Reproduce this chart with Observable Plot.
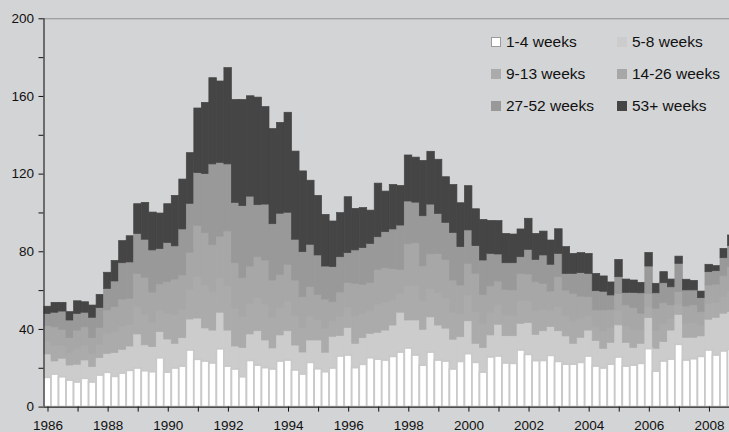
<!DOCTYPE html>
<html><head><meta charset="utf-8">
<script src="https://cdn.jsdelivr.net/npm/d3@7"></script>
<script src="https://cdn.jsdelivr.net/npm/@observablehq/plot@0.6"></script>
<style>
body{margin:0;background:#d3d4d6;}
#wrap{position:relative;width:729px;height:432px;overflow:hidden;}
#legend{position:absolute;left:491px;top:37px;display:grid;grid-template-columns:126px 120px;row-gap:22px;font-family:"Liberation Sans",Arial,sans-serif;font-size:15.5px;color:#111;}
.item{display:flex;align-items:center;height:10px;white-space:nowrap;}
.sw{width:10px;height:10px;box-sizing:border-box;margin-right:5px;flex:none;}
</style></head><body><div id="wrap"></div>
<script>
const quarters = d3.range(92).map(i => `${1986 + Math.floor(i / 4)} Q${i % 4 + 1}`);
const durations = ["1-4 weeks", "5-8 weeks", "9-13 weeks", "14-26 weeks", "27-52 weeks", "53+ weeks"];
const colors = ["#ffffff", "#cccccc", "#ababab", "#a7a7a7", "#999999", "#454545"];
const yTicks = [0, 20, 40, 60, 80, 100, 120, 140, 160, 180, 200];
const xTicks = d3.range(1986, 2009);

const w1_4 = [15.1,16.8,15.4,13.7,12.7,14.6,12.7,16.3,17.7,15.6,
17.3,18.7,19.9,18.5,18.0,25.2,17.8,19.9,20.9,29.2,
24.4,23.5,22.5,29.8,20.9,19.4,15.4,23.8,21.4,20.1,
19.4,23.5,24.0,18.9,16.8,22.8,19.5,18.0,19.9,26.1,
26.6,20.1,21.8,25.2,24.5,24.0,25.9,28.1,30.2,26.6,
21.4,28.1,24.0,23.5,19.4,23.3,27.3,22.8,17.8,25.6,
26.1,22.5,22.3,29.2,26.9,23.7,23.8,26.4,23.3,21.9,
21.9,22.8,26.1,20.9,19.9,21.9,25.6,20.9,21.4,22.3,
29.9,18.3,23.5,24.5,32.1,24.0,24.7,25.9,29.2,26.6,
28.7,29.5];
const w5_8 = [12.0,6.7,9.5,7.7,9.1,9.4,7.9,8.9,9.7,12.2,
12.2,12.5,17.5,13.3,12.9,13.4,17.0,12.7,14.6,15.9,
21.2,17.0,16.9,18.8,18.5,11.8,15.0,13.6,17.7,14.2,
10.8,13.4,15.1,12.8,11.3,11.5,14.8,10.0,16.3,10.5,
14.2,12.5,13.7,12.5,13.7,15.4,16.1,20.5,14.4,18.0,
18.4,18.1,18.0,16.9,15.3,12.7,16.9,9.8,12.6,11.3,
16.3,14.0,14.2,13.7,16.4,13.5,15.3,14.8,15.8,14.5,
10.7,12.9,13.3,13.1,10.1,11.2,16.5,12.2,9.0,10.3,
15.9,11.7,10.0,14.9,15.4,11.7,11.0,10.5,15.8,19.4,
19.4,19.5];
const w9_13 = [6.6,7.9,6.7,6.3,7.9,7.7,6.7,7.0,10.1,10.7,
11.7,11.1,14.0,15.7,12.6,11.1,13.3,14.9,14.5,15.5,
21.5,22.1,19.8,17.6,23.0,19.3,16.2,15.8,17.1,18.5,
15.8,14.0,15.4,15.1,12.8,12.4,10.6,12.3,8.0,10.1,
10.4,13.9,12.4,11.8,14.6,14.4,13.0,9.9,17.7,17.9,
14.7,14.6,16.6,15.9,13.7,12.0,13.3,16.2,12.3,11.4,
10.0,10.8,10.6,11.6,11.3,12.2,11.0,8.2,12.5,10.6,
11.6,9.5,7.7,7.1,8.9,7.7,7.3,8.7,9.3,7.0,
5.6,9.3,9.0,5.9,5.3,7.2,7.5,5.6,7.9,7.7,
8.7,10.4];
const w14_26 = [8.0,9.7,8.2,7.8,9.7,9.4,8.2,8.6,12.3,13.0,
14.2,13.5,17.2,19.1,15.5,13.5,16.3,18.2,17.8,18.9,
26.3,27.0,24.2,21.6,28.1,23.6,19.8,19.2,21.0,22.7,
19.2,17.2,18.8,18.4,15.7,15.1,12.9,15.1,9.8,12.3,
12.8,17.0,15.1,14.5,17.9,17.7,16.0,12.2,21.6,21.9,
18.0,17.9,20.3,19.5,16.8,14.6,16.3,19.9,15.1,13.9,
12.3,13.1,13.0,14.1,13.7,14.9,13.4,10.1,15.3,13.0,
14.1,11.7,9.5,8.7,10.9,9.3,8.9,10.6,11.3,8.5,
6.9,11.4,11.0,7.1,6.4,8.9,9.2,6.9,9.7,9.4,
10.6,12.6];
const w27_52 = [6.3,7.5,9.4,9.1,8.6,7.5,10.5,10.2,11.1,13.2,
18.7,18.7,20.6,19.6,21.7,18.2,20.1,17.1,23.7,25.2,
27.1,30.4,41.6,38.0,34.5,31.1,37.1,36.0,26.8,28.8,
29.0,31.5,26.8,21.0,23.2,21.8,20.3,17.0,18.1,18.2,
15.3,17.2,18.9,20.0,16.8,18.6,20.5,22.8,22.0,20.9,
25.8,25.6,20.6,19.1,24.5,19.8,17.2,14.2,17.7,16.7,
13.9,13.7,14.0,8.6,12.7,11.5,14.6,13.8,12.0,8.6,
10.3,12.1,12.0,9.9,9.6,7.4,8.6,6.4,7.8,10.5,
14.1,7.9,10.3,9.3,14.6,8.3,7.7,7.2,6.9,6.9,
9.3,11.0];
const w53plus = [3.7,5.1,4.5,4.3,6.5,5.4,6.3,6.8,8.3,10.6,
11.4,13.5,15.3,19.0,19.5,18.3,20.0,26.0,25.7,26.1,
33.3,36.7,44.4,41.9,49.6,53.0,54.7,51.7,55.4,50.2,
49.0,46.8,51.5,45.4,41.6,33.0,30.7,26.6,23.5,22.7,
28.8,21.4,20.6,17.2,27.6,20.9,22.9,20.4,23.7,23.2,
28.5,27.2,27.9,23.5,24.7,22.6,22.8,19.0,20.9,17.0,
17.2,15.1,14.8,14.3,16.0,13.4,12.3,12.5,12.7,13.8,
10.3,10.3,10.3,8.9,7.9,6.7,8.9,6.9,6.4,5.4,
7.0,4.9,5.7,4.0,3.7,5.5,4.9,3.4,3.8,2.6,
4.8,5.4];

const series = [w1_4, w5_8, w9_13, w14_26, w27_52, w53plus];
const rows = [];
quarters.forEach((q, i) => {
  durations.forEach((d, k) => rows.push({q, x1: 1986 + i / 4, x2: 1986 + (i + 1) / 4, dur: d, value: series[k][i]}));
});
const whiteRows = rows.filter(r => r.dur === durations[0]);

const chart = Plot.plot({
  width: 729, height: 432,
  marginLeft: 43.5, marginRight: 0, marginTop: 18.3, marginBottom: 25.4,
  x: {domain: [1986, 2008.8]},
  y: {domain: [0, 200]},
  color: {domain: durations, range: colors},
  style: {background: "#d3d4d6", fontFamily: "'Liberation Sans', Arial, sans-serif", fontSize: "13.5px", color: "#111"},
  marks: [
    Plot.rectY(rows, {x1: "x1", x2: "x2", y: "value", fill: "dur", stroke: "dur", strokeWidth: 0.7, clip: true}),
    Plot.rectY(whiteRows, {x1: "x1", x2: "x2", y: "value", fill: "#ffffff", stroke: "#c9c9c9", strokeWidth: 1.8, clip: true}),
    Plot.ruleY([200], {stroke: "#8c8c8c", strokeWidth: 1}),
    Plot.axisY({ticks: yTicks, tickSize: 5, tickPadding: 5, tickFormat: d => d % 40 === 0 ? String(d) : "", fontSize: 13.5, label: null}),
    Plot.axisX({ticks: xTicks, tickSize: 5, tickPadding: 8.5, dx: 4, tickFormat: d => d % 2 === 0 ? String(d) : "", fontSize: 13.5, label: null}),
    Plot.ruleY([0], {stroke: "#222", strokeWidth: 1.3}),
    Plot.ruleX([1986], {stroke: "#333", strokeWidth: 1.3})
  ]
});
const wrap = document.getElementById("wrap");
wrap.appendChild(chart);

const legend = document.createElement("div");
legend.id = "legend";
durations.forEach((d, k) => {
  const item = document.createElement("div");
  item.className = "item";
  const sw = document.createElement("span");
  sw.className = "sw";
  sw.style.background = colors[k];
  if (k === 0) sw.style.border = "1px solid #9a9a9a";
  const t = document.createElement("span");
  t.textContent = d;
  item.appendChild(sw); item.appendChild(t);
  legend.appendChild(item);
});
wrap.appendChild(legend);
</script></body></html>
